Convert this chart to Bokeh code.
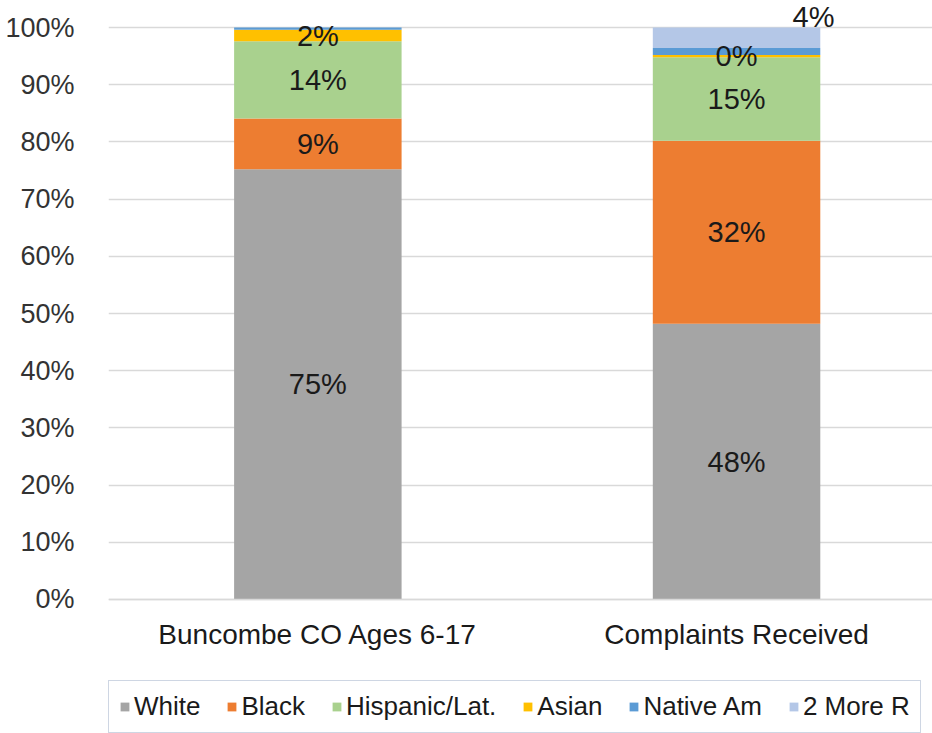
from bokeh.plotting import figure
from bokeh.models import ColumnDataSource, Range1d, FixedTicker, PrintfTickFormatter, Legend, LegendItem
from bokeh.core.properties import value
from bokeh.embed import file_html
from bokeh.resources import INLINE

# ---- data ----
categories = ["Buncombe CO Ages 6-17", "Complaints Received"]
series = ["White", "Black", "Hispanic/Lat.", "Asian", "Native Am", "2 More R"]
white = [75.2, 48.2]
black = [8.9, 32.0]
hispanic = [13.5, 14.6]
asian = [2.0, 0.4]
native_am = [0.4, 1.2]
more_r = [0.0, 3.6]
labels_bar1 = ["75%", "9%", "14%", "2%", "", ""]
labels_bar2 = ["48%", "32%", "15%", "0%", "", "4%"]
y_ticks = [0, 10, 20, 30, 40, 50, 60, 70, 80, 90, 100]

colors = ["#A5A5A5", "#ED7D31", "#A9D18E", "#FFC000", "#5B9BD5", "#B4C7E7"]
FONT = "Liberation Sans"

xpos = [0.5, 1.5]
data = {"x": xpos}
keys = ["s0", "s1", "s2", "s3", "s4", "s5"]
vals = [white, black, hispanic, asian, native_am, more_r]
for k, v in zip(keys, vals):
    data[k] = v
src = ColumnDataSource(data)

p = figure(frame_width=824, frame_height=728, x_range=Range1d(0, 1.968), y_range=Range1d(-23.43, 103.85),
           output_backend="svg", toolbar_location=None,
           min_border_left=108, min_border_right=0, min_border_top=5, min_border_bottom=0)
p.outline_line_color = None

renderers = p.vbar_stack(keys, x="x", width=0.4, source=src, color=colors, line_color=None)

# data labels
lx, ly, lt, xo, yo = [], [], [], [], []
for bi, labs in enumerate([labels_bar1, labels_bar2]):
    cum = 0.0
    for si, v in enumerate(vals):
        mid = cum + v[bi] / 2
        cum += v[bi]
        if labs[si]:
            lx.append(xpos[bi]); ly.append(mid); lt.append(labs[si])
            if bi == 1 and si == 5:
                xo.append(77); yo.append(-21)
            else:
                xo.append(0); yo.append(0)
lsrc = ColumnDataSource(dict(x=lx, y=ly, t=lt, xo=xo, yo=yo))
p.text(x="x", y="y", text="t", x_offset="xo", y_offset="yo", source=lsrc,
       text_align="center", text_baseline="middle", text_font=value(FONT),
       text_font_size="29px", text_color="#1a1a1a")

# axes
p.yaxis.ticker = FixedTicker(ticks=y_ticks)
p.yaxis.formatter = PrintfTickFormatter(format="%d%%")
p.yaxis.axis_line_color = None
p.yaxis.major_tick_line_color = None
p.yaxis.minor_tick_line_color = None
p.yaxis.major_label_standoff = 28
p.yaxis.major_label_text_font = FONT
p.yaxis.major_label_text_font_size = "27px"
p.yaxis.major_label_text_color = "#333333"

p.xaxis.fixed_location = 0
p.xaxis.ticker = FixedTicker(ticks=xpos)
p.xaxis.major_label_overrides = {xpos[0]: categories[0], xpos[1]: categories[1]}
p.xaxis.axis_line_color = "#D9D9D9"
p.xaxis.axis_line_width = 1.5
p.xaxis.major_tick_line_color = None
p.xaxis.minor_tick_line_color = None
p.xaxis.major_label_standoff = 14
p.xaxis.major_label_text_font = FONT
p.xaxis.major_label_text_font_size = "28px"
p.xaxis.major_label_text_color = "#1a1a1a"

p.xgrid.grid_line_color = None
p.ygrid.ticker = FixedTicker(ticks=y_ticks)
p.ygrid.grid_line_color = "#D9D9D9"
p.ygrid.grid_line_width = 1.5

items = [LegendItem(label=s, renderers=[r]) for s, r in zip(series, renderers)]
legend = Legend(items=items, orientation="horizontal", location=(0, 0), margin=0,
                label_text_font=FONT, label_text_font_size="26px", label_text_color="#1a1a1a",
                glyph_width=11, glyph_height=11, label_standoff=4, spacing=26,
                padding=10, border_line_color="#9DADC7", border_line_width=1.5,
                background_fill_alpha=0)
p.add_layout(legend, "center")

open("out.html", "w").write(file_html(p, INLINE))
